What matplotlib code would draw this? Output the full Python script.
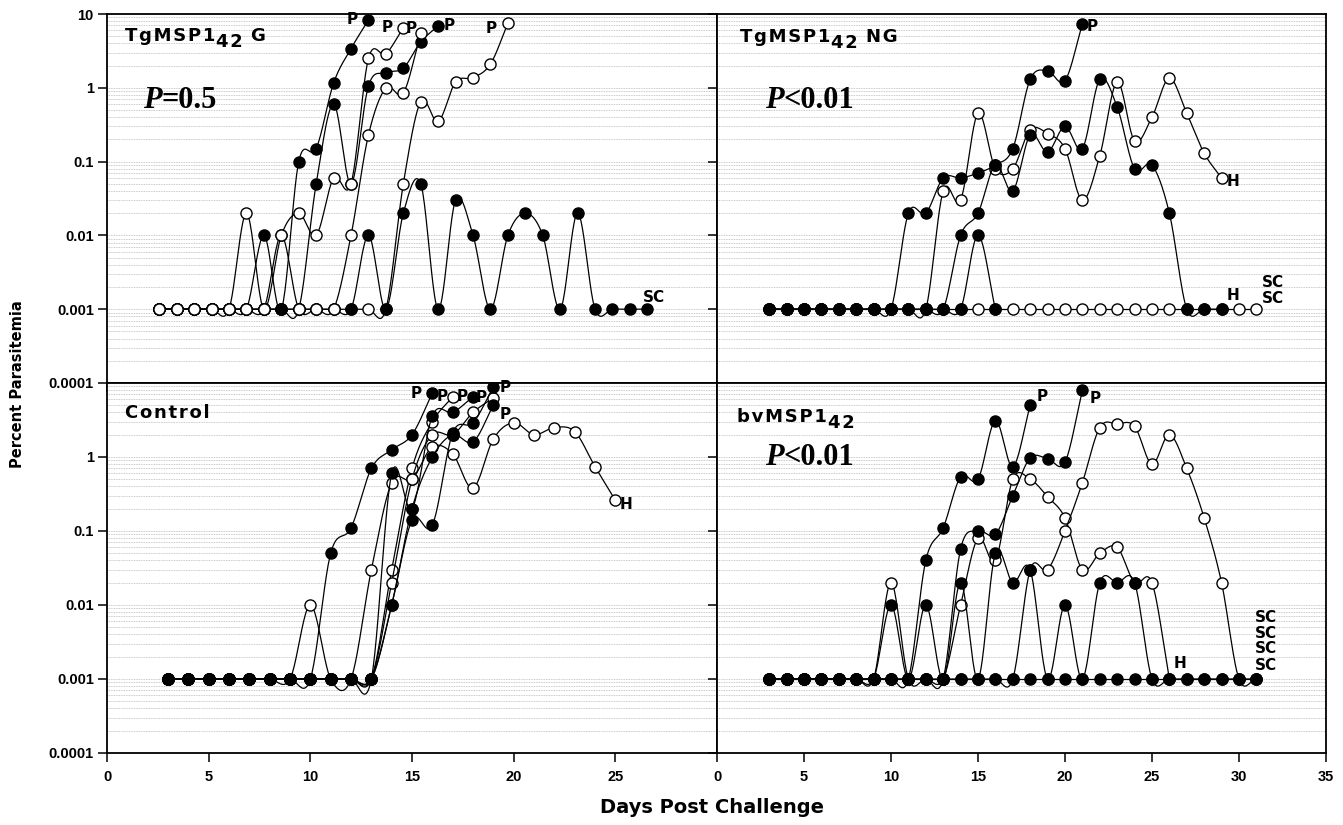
import numpy as np
import matplotlib
matplotlib.use("Agg")
import matplotlib.pyplot as plt

plt.rcParams['font.family'] = ['Liberation Sans', 'DejaVu Sans']

# every series starts on day 3 and has one value per day (percent parasitemia)
FIRST_DAY = 3

# --- TgMSP1-42 G (top left) ---
g_open_p23 = [0.001, 0.001, 0.001, 0.001, 0.001, 0.001, 0.001, 0.001, 0.001, 0.001,
              0.001, 0.001, 0.001, 0.001, 0.05, 0.65, 0.35, 1.2, 1.37, 2.1, 7.5]
g_fill_p15 = [0.001, 0.001, 0.001, 0.001, 0.001, 0.001, 0.01, 0.001, 0.1, 0.15,
              1.16, 3.4, 8.3]
g_fill_p19 = [0.001, 0.001, 0.001, 0.001, 0.001, 0.001, 0.001, 0.001, 0.001, 0.05,
              0.6, 0.05, 1.06, 1.6, 1.85, 4.2, 6.9]
g_fill_sc = [0.001, 0.001, 0.001, 0.001, 0.001, 0.001, 0.001, 0.001, 0.001, 0.001,
             0.001, 0.001, 0.01, 0.001, 0.02, 0.05, 0.001, 0.03, 0.01, 0.001,
             0.01, 0.02, 0.01, 0.001, 0.02, 0.001, 0.001, 0.001, 0.001]
g_open_p18 = [0.001, 0.001, 0.001, 0.001, 0.001, 0.001, 0.001, 0.01, 0.001, 0.001,
              0.001, 0.01, 0.23, 1.0, 0.85, 5.5]
g_open_p17 = [0.001, 0.001, 0.001, 0.001, 0.001, 0.02, 0.001, 0.01, 0.02, 0.01,
              0.06, 0.05, 2.5, 2.9, 6.5]

# --- TgMSP1-42 NG (top right) ---
ng_open_sc = [0.001, 0.001, 0.001, 0.001, 0.001, 0.001, 0.001, 0.001, 0.001, 0.001,
              0.001, 0.001, 0.001, 0.001, 0.001, 0.001, 0.001, 0.001, 0.001, 0.001,
              0.001, 0.001, 0.001, 0.001, 0.001, 0.001, 0.001, 0.001, 0.001]
ng_open_h = [0.001, 0.001, 0.001, 0.001, 0.001, 0.001, 0.001, 0.001, 0.001, 0.001,
             0.04, 0.03, 0.45, 0.08, 0.08, 0.27, 0.24, 0.15, 0.03, 0.12,
             1.2, 0.19, 0.4, 1.35, 0.45, 0.13, 0.06]
ng_fill_a = [0.001, 0.001, 0.001, 0.001, 0.001, 0.001, 0.001, 0.001, 0.001, 0.001,
             0.001, 0.001, 0.01, 0.001]
ng_fill_h = [0.001, 0.001, 0.001, 0.001, 0.001, 0.001, 0.001, 0.001, 0.001, 0.001,
             0.001, 0.01, 0.02, 0.09, 0.04, 0.23, 0.135, 0.3, 0.15, 1.3,
             0.55, 0.08, 0.09, 0.02, 0.001, 0.001, 0.001]
ng_fill_p = [0.001, 0.001, 0.001, 0.001, 0.001, 0.001, 0.001, 0.001, 0.02, 0.02,
             0.06, 0.06, 0.07, 0.09, 0.15, 1.3, 1.7, 1.25, 7.3]

# --- Control (bottom left) ---
c_open_h = [0.001, 0.001, 0.001, 0.001, 0.001, 0.001, 0.001, 0.01, 0.001, 0.001,
            0.03, 0.45, 0.5, 1.37, 1.1, 0.38, 1.75, 2.9, 2.0, 2.5,
            2.2, 0.74, 0.26]
c_open_p17 = [0.001, 0.001, 0.001, 0.001, 0.001, 0.001, 0.001, 0.001, 0.001, 0.001,
              0.001, 0.03, 0.7, 3.0, 6.5]
c_open_p19 = [0.001, 0.001, 0.001, 0.001, 0.001, 0.001, 0.001, 0.001, 0.001, 0.001,
              0.001, 0.02, 0.5, 2.0, 2.0, 4.0, 6.3]
c_fill_p16 = [0.001, 0.001, 0.001, 0.001, 0.001, 0.001, 0.001, 0.001, 0.05, 0.11,
              0.7, 1.25, 2.0, 7.3]
c_fill_p18 = [0.001, 0.001, 0.001, 0.001, 0.001, 0.001, 0.001, 0.001, 0.001, 0.001,
              0.001, 0.6, 0.2, 3.6, 4.0, 6.5]
c_fill_p19a = [0.001, 0.001, 0.001, 0.001, 0.001, 0.001, 0.001, 0.001, 0.001, 0.001,
               0.001, 0.01, 0.14, 0.12, 2.1, 2.9, 8.8]
c_fill_p19b = [0.001, 0.001, 0.001, 0.001, 0.001, 0.001, 0.001, 0.001, 0.001, 0.001,
               0.001, 0.01, 0.2, 1.0, 2.0, 1.6, 5.0]

# --- bvMSP1-42 (bottom right) ---
bv_open_h = [0.001, 0.001, 0.001, 0.001, 0.001, 0.001, 0.001, 0.02, 0.001, 0.001,
             0.001, 0.01, 0.08, 0.04, 0.5, 0.5, 0.29, 0.15, 0.03, 0.05,
             0.06, 0.02, 0.02, 0.001]
bv_open_sc = [0.001, 0.001, 0.001, 0.001, 0.001, 0.001, 0.001, 0.001, 0.001, 0.001,
              0.001, 0.001, 0.001, 0.001, 0.001, 0.03, 0.03, 0.1, 0.45, 2.5,
              2.8, 2.6, 0.8, 2.0, 0.7, 0.15, 0.02, 0.001, 0.001]
bv_fill_sc1 = [0.001, 0.001, 0.001, 0.001, 0.001, 0.001, 0.001, 0.001, 0.001, 0.001,
               0.001, 0.001, 0.001, 0.001, 0.001, 0.001, 0.001, 0.001, 0.001, 0.001,
               0.001, 0.001, 0.001, 0.001, 0.001, 0.001, 0.001, 0.001, 0.001]
bv_fill_sc2 = [0.001, 0.001, 0.001, 0.001, 0.001, 0.001, 0.001, 0.01, 0.001, 0.01,
               0.001, 0.02, 0.001, 0.05, 0.02, 0.03, 0.001, 0.01, 0.001, 0.02,
               0.02, 0.02, 0.001, 0.001, 0.001, 0.001, 0.001, 0.001, 0.001]
bv_fill_p18 = [0.001, 0.001, 0.001, 0.001, 0.001, 0.001, 0.001, 0.001, 0.001, 0.04,
               0.11, 0.54, 0.5, 3.1, 0.74, 5.0]
bv_fill_p21 = [0.001, 0.001, 0.001, 0.001, 0.001, 0.001, 0.001, 0.001, 0.001, 0.001,
               0.001, 0.057, 0.1, 0.09, 0.3, 0.97, 0.95, 0.85, 8.0]

LABEL_FONT = dict(fontsize=11, fontweight='bold', family='DejaVu Sans')
TITLE_FONT = dict(fontsize=13, fontweight='bold', family='DejaVu Sans')
HAIR = '\u200a'


def spaced(s):
    return HAIR.join(s)


def smooth(x, y, n=24):
    # cubic Hermite (Catmull-Rom) curve through the points, in log space
    ly = np.log10(y)
    m = np.gradient(ly, x)
    xs, ys = [], []
    t = np.linspace(0, 1, n, endpoint=False)
    for i in range(len(x) - 1):
        dx = x[i + 1] - x[i]
        h00 = 2 * t**3 - 3 * t**2 + 1
        h10 = t**3 - 2 * t**2 + t
        h01 = -2 * t**3 + 3 * t**2
        h11 = t**3 - t**2
        xs.append(x[i] + t * dx)
        ys.append(h00 * ly[i] + h10 * dx * m[i] + h01 * ly[i + 1] + h11 * dx * m[i + 1])
    xs.append([x[-1]])
    ys.append([ly[-1]])
    return np.concatenate(xs), 10 ** np.concatenate(ys)


def draw(ax, values, filled, z):
    y = np.array(values, dtype=float)
    x = FIRST_DAY + np.arange(len(y))
    sx, sy = smooth(x, y)
    ax.plot(sx, sy, color='black', lw=0.9, zorder=z)
    ax.plot(x, y, 'o', ms=8, mec='black', mew=1.0,
            mfc='black' if filled else 'white', zorder=z + 0.5)
    return x[-1], y[-1]


def tag(ax, pt, s, dx, dy):
    ax.annotate(s, pt, xytext=(dx, dy), textcoords='offset points',
                ha='center', va='center', zorder=50, **LABEL_FONT)


def title(ax, x, y, head, sub, tail=''):
    t1 = ax.text(x, y, spaced(head), transform=ax.transAxes, va='baseline',
                 **TITLE_FONT)
    t2 = ax.annotate(spaced(sub), xy=(1, 0), xycoords=t1, xytext=(0.5, -4.5),
                     textcoords='offset points', va='bottom', **TITLE_FONT)
    if tail:
        ax.annotate(spaced(tail), xy=(1, 0), xycoords=t2, xytext=(0, 4.5),
                    textcoords='offset points', va='bottom', **TITLE_FONT)


def pvalue(ax, x, y, rest):
    p = ax.text(x, y, 'P', transform=ax.transAxes, fontsize=22,
                fontweight='bold', style='italic', family='Liberation Serif',
                va='baseline')
    ax.annotate(rest, xy=(1, 0), xycoords=p, xytext=(0, 0),
                textcoords='offset points', va='bottom', fontsize=22,
                fontweight='bold', family='Liberation Serif')


fig = plt.figure(figsize=(13.43, 8.25), dpi=100)
L, M, R = 0.0797, 0.5339, 0.9873
B, MY, T = 0.0873, 0.5358, 0.9830
ax_tl = fig.add_axes([L, MY, M - L, T - MY])
ax_tr = fig.add_axes([M, MY, R - M, T - MY])
ax_bl = fig.add_axes([L, B, M - L, MY - B])
ax_br = fig.add_axes([M, B, R - M, MY - B])

ytick_vals = [0.0001, 0.001, 0.01, 0.1, 1, 10]
ytick_txt = ['0.0001', '0.001', '0.01', '0.1', '1', '10']

for ax in (ax_tl, ax_tr, ax_bl, ax_br):
    ax.set_yscale('log')
    ax.set_ylim(0.0001, 10)
    ax.set_axisbelow(True)
    ax.yaxis.grid(True, which='both', color='#b8b8b8', linestyle=(0, (1, 1)), lw=0.6)
    ax.tick_params(which='major', direction='out', length=6.5, width=1.1,
                   labelsize=10.5)
    ax.tick_params(axis='y', pad=3)
    ax.tick_params(axis='x', pad=6)
    ax.tick_params(which='minor', length=0)
    for sp in ax.spines.values():
        sp.set_linewidth(1.3)

ax_tl.set_xlim(0, 35)
ax_tr.set_xlim(0, 35)
ax_bl.set_xlim(0, 30)
ax_br.set_xlim(0, 35)
for ax in (ax_tl, ax_tr, ax_br):
    ax.set_xticks(range(0, 36, 5))
ax_bl.set_xticks(range(0, 26, 5))
ax_tl.tick_params(labelbottom=False)
ax_tr.tick_params(labelbottom=False, labelleft=False)
ax_br.tick_params(labelleft=False)

ax_tl.set_yticks(ytick_vals)
ax_tl.set_yticklabels(ytick_txt, fontweight='bold')
ax_bl.set_yticks(ytick_vals[:-1])
ax_bl.set_yticklabels(ytick_txt[:-1], fontweight='bold')
ax_tr.set_yticks(ytick_vals)
ax_br.set_yticks(ytick_vals[:-1])
ax_bl.set_xticklabels([str(v) for v in range(0, 26, 5)], fontweight='bold')
ax_br.set_xticklabels([str(v) for v in range(0, 36, 5)], fontweight='bold')

# top left
draw(ax_tl, g_open_p23, False, 2)
p15 = draw(ax_tl, g_fill_p15, True, 3)
p19 = draw(ax_tl, g_fill_p19, True, 4)
sc = draw(ax_tl, g_fill_sc, True, 5)
p18 = draw(ax_tl, g_open_p18, False, 6)
p17 = draw(ax_tl, g_open_p17, False, 7)
p23 = (FIRST_DAY + len(g_open_p23) - 1, g_open_p23[-1])
tag(ax_tl, p15, 'P', -12, 0)
tag(ax_tl, p17, 'P', -11.5, 0)
tag(ax_tl, p18, 'P', -7, 3.5)
tag(ax_tl, p19, 'P', 8, 0)
tag(ax_tl, p23, 'P', -12, -3.5)
tag(ax_tl, sc, 'SC', 5, 8.5)
title(ax_tl, 0.03, 0.927, 'TgMSP1', '42', ' G')
pvalue(ax_tl, 0.059, 0.745, '=0.5')

# top right
sc_end = draw(ax_tr, ng_open_sc, False, 2)
h_open = draw(ax_tr, ng_open_h, False, 3)
draw(ax_tr, ng_fill_a, True, 4)
h_fill = draw(ax_tr, ng_fill_h, True, 5)
p_end = draw(ax_tr, ng_fill_p, True, 6)
tag(ax_tr, p_end, 'P', 7, -2)
tag(ax_tr, h_open, 'H', 8, -2.5)
tag(ax_tr, h_fill, 'H', 8, 10)
tag(ax_tr, sc_end, 'SC', 12, 19.5)
tag(ax_tr, sc_end, 'SC', 12, 8)
title(ax_tr, 0.038, 0.924, 'TgMSP1', '42', ' NG')
pvalue(ax_tr, 0.079, 0.745, '<0.01')

# bottom left
h_c = draw(ax_bl, c_open_h, False, 2)
o17 = draw(ax_bl, c_open_p17, False, 3)
o19 = draw(ax_bl, c_open_p19, False, 4)
f16 = draw(ax_bl, c_fill_p16, True, 5)
f18 = draw(ax_bl, c_fill_p18, True, 6)
f19a = draw(ax_bl, c_fill_p19a, True, 7)
f19b = draw(ax_bl, c_fill_p19b, True, 8)
tag(ax_bl, f16, 'P', -12, 0)
tag(ax_bl, o17, 'P', -7.5, 0)
tag(ax_bl, f18, 'P', -7.5, 0)
tag(ax_bl, o19, 'P', -8.5, 0)
tag(ax_bl, f19a, 'P', 8.5, 0)
tag(ax_bl, f19b, 'P', 8.5, -6.5)
tag(ax_bl, h_c, 'H', 8, -3)
ax_bl.text(0.029, 0.905, spaced('Control'), transform=ax_bl.transAxes,
           va='baseline', **TITLE_FONT)

# bottom right
hb = draw(ax_br, bv_open_h, False, 2)
draw(ax_br, bv_open_sc, False, 3)
scb = draw(ax_br, bv_fill_sc1, True, 4)
draw(ax_br, bv_fill_sc2, True, 5)
pb18 = draw(ax_br, bv_fill_p18, True, 6)
pb21 = draw(ax_br, bv_fill_p21, True, 7)
tag(ax_br, pb18, 'P', 9, 6)
tag(ax_br, pb21, 'P', 9, -6)
tag(ax_br, hb, 'H', 8, 11.5)
for dy in (44, 33, 22, 9.5):
    tag(ax_br, scb, 'SC', 7, dy)
title(ax_br, 0.033, 0.895, 'bvMSP1', '42')
pvalue(ax_br, 0.079, 0.778, '<0.01')

fig.text(0.013, 0.535, 'Percent Parasitemia', rotation=90, ha='center',
         va='center', fontsize=10.5, fontweight='bold', family='DejaVu Sans')
fig.text(0.53, 0.021, 'Days Post Challenge', ha='center', va='center',
         fontsize=14, fontweight='bold', family='DejaVu Sans')

fig.savefig('out.png', dpi=100)
